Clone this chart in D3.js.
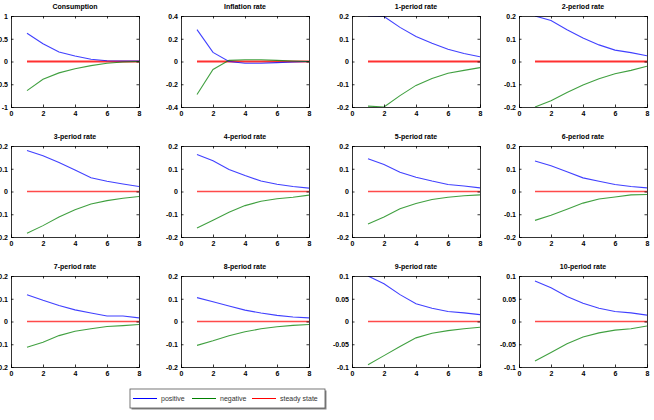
<!DOCTYPE html>
<html>
<head>
<meta charset="utf-8">
<script src="https://cdn.jsdelivr.net/npm/d3@7"></script>
<style>
  body { margin: 0; background: #fff; }
  svg { display: block; font-family: "Liberation Sans", Arial, sans-serif; }
  .axis text { font-size: 7px; font-weight: bold; fill: #000; }
  .axis path, .axis line { stroke: #000; stroke-width: 0.8; }
  .title { font-size: 7px; font-weight: bold; }
  .legend text { font-size: 7px; fill: #333; }
</style>
</head>
<body>
<div id="chart"></div>
<script>
// impulse responses, quarters 1..8
const quarters = [1, 2, 3, 4, 5, 6, 7, 8];
const titles = ['Consumption', 'Inflation rate', '1-period rate', '2-period rate',
    '3-period rate', '4-period rate', '5-period rate', '6-period rate',
    '7-period rate', '8-period rate', '9-period rate', '10-period rate'];
const yDomains = [[-1, 1], [-0.4, 0.4], [-0.2, 0.2], [-0.2, 0.2],
    [-0.2, 0.2], [-0.2, 0.2], [-0.2, 0.2], [-0.2, 0.2],
    [-0.2, 0.2], [-0.2, 0.2], [-0.1, 0.1], [-0.1, 0.1]];
const yTicks = [[-1, -0.5, 0, 0.5, 1], [-0.4, -0.2, 0, 0.2, 0.4],
    [-0.2, -0.1, 0, 0.1, 0.2], [-0.2, -0.1, 0, 0.1, 0.2],
    [-0.2, -0.1, 0, 0.1, 0.2], [-0.2, -0.1, 0, 0.1, 0.2],
    [-0.2, -0.1, 0, 0.1, 0.2], [-0.2, -0.1, 0, 0.1, 0.2],
    [-0.2, -0.1, 0, 0.1, 0.2], [-0.2, -0.1, 0, 0.1, 0.2],
    [-0.1, -0.05, 0, 0.05, 0.1], [-0.1, -0.05, 0, 0.05, 0.1]];
const xTicks = [0, 2, 4, 6, 8];

const positive = [
    [0.62, 0.39, 0.21, 0.12, 0.05, 0.015, 0.01, 0.01],
    [0.28, 0.08, 0.0, -0.015, -0.015, -0.01, -0.005, 0],
    [0.2, 0.198, 0.15, 0.11, 0.08, 0.054, 0.035, 0.021],
    [0.2, 0.18, 0.14, 0.103, 0.073, 0.05, 0.039, 0.025],
    [0.18, 0.157, 0.127, 0.094, 0.06, 0.045, 0.033, 0.022],
    [0.163, 0.135, 0.097, 0.07, 0.046, 0.032, 0.022, 0.015],
    [0.144, 0.119, 0.085, 0.063, 0.046, 0.031, 0.024, 0.016],
    [0.134, 0.113, 0.087, 0.06, 0.045, 0.031, 0.022, 0.016],
    [0.118, 0.093, 0.07, 0.051, 0.037, 0.024, 0.024, 0.016],
    [0.105, 0.087, 0.068, 0.05, 0.037, 0.027, 0.02, 0.016],
    [0.1, 0.083, 0.059, 0.039, 0.029, 0.022, 0.019, 0.015],
    [0.089, 0.074, 0.055, 0.04, 0.029, 0.022, 0.019, 0.014]
];
const negative = [
    [-0.64, -0.39, -0.25, -0.16, -0.09, -0.04, -0.01, 0],
    [-0.29, -0.07, 0.01, 0.015, 0.015, 0.01, 0.005, 0],
    [-0.196, -0.2, -0.15, -0.105, -0.075, -0.052, -0.039, -0.027],
    [-0.2, -0.173, -0.136, -0.103, -0.076, -0.054, -0.039, -0.021],
    [-0.184, -0.15, -0.112, -0.08, -0.055, -0.04, -0.03, -0.022],
    [-0.16, -0.126, -0.091, -0.062, -0.043, -0.032, -0.025, -0.016],
    [-0.143, -0.112, -0.076, -0.053, -0.035, -0.025, -0.019, -0.015],
    [-0.127, -0.104, -0.078, -0.051, -0.033, -0.024, -0.015, -0.013],
    [-0.113, -0.091, -0.062, -0.043, -0.032, -0.022, -0.018, -0.013],
    [-0.105, -0.085, -0.063, -0.045, -0.032, -0.023, -0.017, -0.013],
    [-0.095, -0.075, -0.055, -0.036, -0.026, -0.02, -0.016, -0.0125],
    [-0.087, -0.068, -0.049, -0.034, -0.025, -0.019, -0.016, -0.01]
];
const steadyState = [0, 0, 0, 0, 0, 0, 0, 0];

const seriesNames = ['positive', 'negative', 'steady state'];
const seriesColors = ['#0000ff', '#008000', '#ff0000'];

const width = 654;
const height = 420;

// panel boxes (MATLAB subplot positions)
const colX = [11, 181, 352, 519];
const rowY = [16, 146, 276];
const panelW = 128;
const panelH = 91;

const svg = d3.select('#chart')
    .append('svg')
    .attr('width', width)
    .attr('height', height);

const fmt = d => d3.format('')(d).replace('−', '-');

titles.forEach((title, i) => {
    const col = i % 4;
    const row = Math.floor(i / 4);
    const g = svg.append('g')
        .attr('transform', `translate(${colX[col]},${rowY[row]})`);

    const x = d3.scaleLinear().domain([0, 8]).range([0, panelW]);
    const y = d3.scaleLinear().domain(yDomains[i]).range([panelH, 0]);

    const clipId = 'clip' + i;
    g.append('clipPath').attr('id', clipId)
        .append('rect').attr('width', panelW).attr('height', panelH);

    const line = d3.line()
        .x((d, k) => x(quarters[k]))
        .y(d => y(d));

    const plot = g.append('g').attr('clip-path', `url(#${clipId})`);
    plot.append('path')
        .datum(steadyState)
        .attr('d', line)
        .attr('fill', 'none')
        .attr('stroke', row === 0 ? '#ff3030' : '#ff4a4a')
        .attr('stroke-width', row === 0 ? 2 : 1.5);
    plot.append('path')
        .datum(positive[i])
        .attr('d', line)
        .attr('fill', 'none')
        .attr('stroke', seriesColors[0])
        .attr('stroke-opacity', 0.75)
        .attr('stroke-width', 1.1);
    plot.append('path')
        .datum(negative[i])
        .attr('d', line)
        .attr('fill', 'none')
        .attr('stroke', seriesColors[1])
        .attr('stroke-opacity', 0.75)
        .attr('stroke-width', 1.1);

    // box with inward ticks on all sides
    g.append('g').attr('class', 'axis')
        .attr('transform', `translate(0,${panelH})`)
        .call(d3.axisBottom(x).tickValues(xTicks).tickSize(-2.5).tickPadding(4).tickFormat(fmt));
    g.append('g').attr('class', 'axis')
        .call(d3.axisTop(x).tickValues(xTicks).tickSize(-2.5).tickFormat(''));
    g.append('g').attr('class', 'axis')
        .call(d3.axisLeft(y).tickValues(yTicks[i]).tickSize(-2.5).tickPadding(3).tickFormat(fmt));
    g.append('g').attr('class', 'axis')
        .attr('transform', `translate(${panelW},0)`)
        .call(d3.axisRight(y).tickValues(yTicks[i]).tickSize(-2.5).tickFormat(''));

    g.append('text')
        .attr('class', 'title')
        .attr('x', panelW / 2)
        .attr('y', -7)
        .attr('text-anchor', 'middle')
        .text(title);
});

// legend
const legend = svg.append('g').attr('class', 'legend')
    .attr('transform', 'translate(130,389)');
legend.append('rect')
    .attr('x', 1.5).attr('y', 1.5)
    .attr('width', 195).attr('height', 19)
    .attr('fill', '#888');
legend.append('rect')
    .attr('width', 195).attr('height', 19)
    .attr('fill', '#fff')
    .attr('stroke', '#555')
    .attr('stroke-width', 0.8);
const legendX = [3, 62, 122];
seriesNames.forEach((name, k) => {
    legend.append('line')
        .attr('x1', legendX[k]).attr('x2', legendX[k] + 24)
        .attr('y1', 9.5).attr('y2', 9.5)
        .attr('stroke', seriesColors[k])
        .attr('stroke-width', 1);
    legend.append('text')
        .attr('x', legendX[k] + 28)
        .attr('y', 12)
        .text(name);
});
</script>
</body>
</html>
